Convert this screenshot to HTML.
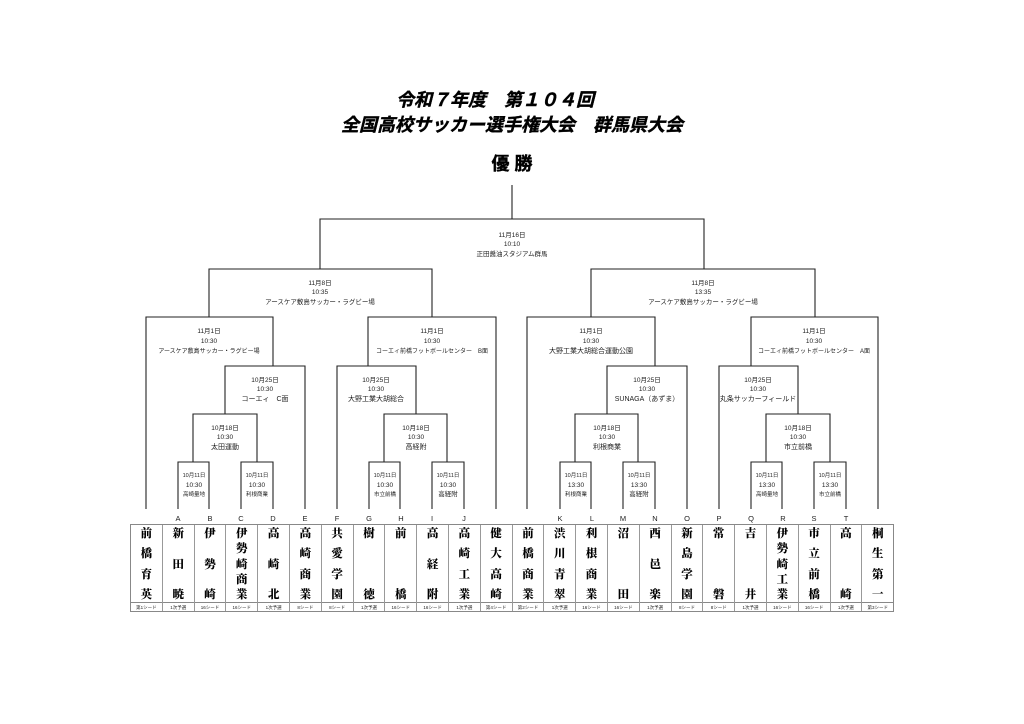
<!DOCTYPE html>
<html><head><meta charset="utf-8"><style>
html,body{margin:0;padding:0;background:#fff;width:1024px;height:724px;overflow:hidden;position:relative}
svg{position:absolute;left:0;top:0}
.t{font-family:"Liberation Sans","Noto Sans CJK JP",sans-serif;fill:#222}
#tbl{position:absolute;left:130px;top:524px;width:764px;height:88px;display:flex;border:1px solid #888;box-sizing:border-box}
.col{flex:1;border-right:1px solid #999;display:flex;flex-direction:column}
.col:last-child{border-right:none}
.nm{height:77px;display:flex;flex-direction:column;justify-content:space-between;align-items:center;padding:2px 0 1px;box-sizing:border-box;font-family:"Noto Serif CJK JP","Noto Serif CJK SC",serif;font-weight:900;font-size:11.5px;line-height:13px;color:#000}
.sd{flex:1;border-top:1px solid #888;font-family:"Liberation Sans","Noto Sans CJK JP",sans-serif;font-size:4.5px;line-height:10px;text-align:center;color:#222;white-space:nowrap;overflow:hidden}
</style></head><body>
<svg width="1024" height="724" viewBox="0 0 1024 724">
<g font-family="'Liberation Sans','Noto Sans CJK JP',sans-serif" fill="#000" font-weight="bold" font-style="italic" text-anchor="middle" stroke="#000" stroke-width="0.4">
<text x="495" y="106" font-size="18">令和７年度　第１０４回</text>
<text x="512" y="131" font-size="18">全国高校サッカー選手権大会　群馬県大会</text>
<text x="512" y="170" font-size="18" font-style="normal">優 勝</text>
</g>
<g stroke="#222" stroke-width="1.1" fill="none">
<path d="M512 185V219M320 269V219H704V269"/>
<path d="M209 317V269H432V317M591 317V269H815V317"/>
<path d="M146 509V317H273V366M368 366V317H496V509M527 509V317H655V366M751 366V317H878V509"/>
<path d="M225 414V366H305V509M337 509V366H416V414M607 414V366H687V509M719 509V366H798V414"/>
<path d="M193 462V414H257V462M384 462V414H447V462M575 462V414H638V462M766 462V414H830V462"/>
<path d="M178 509V462H209V509M241 509V462H273V509M369 509V462H400V509M432 509V462H464V509M560 509V462H591V509M623 509V462H655V509M751 509V462H782V509M814 509V462H846V509"/>
</g>
<g class="t" text-anchor="middle" font-size="6.5">
<text x="512" y="237">11月16日</text><text x="512" y="246">10:10</text><text x="512" y="256">正田醤油スタジアム群馬</text>
<text x="320" y="285">11月8日</text><text x="320" y="294">10:35</text><text x="320" y="304">アースケア敷島サッカー・ラグビー場</text>
<text x="703" y="285">11月8日</text><text x="703" y="294">13:35</text><text x="703" y="304">アースケア敷島サッカー・ラグビー場</text>
<text x="209" y="333">11月1日</text><text x="209" y="343">10:30</text><text x="209" y="353" font-size="6">アースケア敷島サッカー・ラグビー場</text>
<text x="432" y="333">11月1日</text><text x="432" y="343">10:30</text><text x="432" y="353" font-size="6">コーエィ前橋フットボールセンター　B面</text>
<text x="591" y="333">11月1日</text><text x="591" y="343">10:30</text><text x="591" y="353" font-size="7">大野工業大胡総合運動公園</text>
<text x="814" y="333">11月1日</text><text x="814" y="343">10:30</text><text x="814" y="353" font-size="6">コーエィ前橋フットボールセンター　A面</text>
<text x="265" y="382">10月25日</text><text x="265" y="391">10:30</text><text x="265" y="401" font-size="7">コーエィ　C面</text>
<text x="376" y="382">10月25日</text><text x="376" y="391">10:30</text><text x="376" y="401" font-size="7">大野工業大胡総合</text>
<text x="647" y="382">10月25日</text><text x="647" y="391">10:30</text><text x="647" y="401" font-size="7">SUNAGA（あずま）</text>
<text x="758" y="382">10月25日</text><text x="758" y="391">10:30</text><text x="758" y="401" font-size="7">丸条サッカーフィールド</text>
<text x="225" y="430">10月18日</text><text x="225" y="439">10:30</text><text x="225" y="449" font-size="7">太田運動</text>
<text x="416" y="430">10月18日</text><text x="416" y="439">10:30</text><text x="416" y="449" font-size="7">高経附</text>
<text x="607" y="430">10月18日</text><text x="607" y="439">10:30</text><text x="607" y="449" font-size="7">利根商業</text>
<text x="798" y="430">10月18日</text><text x="798" y="439">10:30</text><text x="798" y="449" font-size="7">市立前橋</text>
</g>
<g class="t" text-anchor="middle" font-size="5.5">
<text x="194" y="477">10月11日</text><text x="194" y="487" font-size="6.5">10:30</text><text x="194" y="496">高崎量地</text>
<text x="257" y="477">10月11日</text><text x="257" y="487" font-size="6.5">10:30</text><text x="257" y="496">利根商業</text>
<text x="385" y="477">10月11日</text><text x="385" y="487" font-size="6.5">10:30</text><text x="385" y="496">市立前橋</text>
<text x="448" y="477">10月11日</text><text x="448" y="487" font-size="6.5">10:30</text><text x="448" y="496" font-size="6.5">高経附</text>
<text x="576" y="477">10月11日</text><text x="576" y="487" font-size="6.5">13:30</text><text x="576" y="496">利根商業</text>
<text x="639" y="477">10月11日</text><text x="639" y="487" font-size="6.5">13:30</text><text x="639" y="496" font-size="6.5">高経附</text>
<text x="767" y="477">10月11日</text><text x="767" y="487" font-size="6.5">13:30</text><text x="767" y="496">高崎量地</text>
<text x="830" y="477">10月11日</text><text x="830" y="487" font-size="6.5">13:30</text><text x="830" y="496">市立前橋</text>
</g>
<g class="t" text-anchor="middle" font-size="7.5">
<text x="178" y="521">A</text><text x="210" y="521">B</text><text x="241" y="521">C</text><text x="273" y="521">D</text><text x="305" y="521">E</text>
<text x="337" y="521">F</text><text x="369" y="521">G</text><text x="401" y="521">H</text><text x="432" y="521">I</text><text x="464" y="521">J</text>
<text x="560" y="521">K</text><text x="592" y="521">L</text><text x="623" y="521">M</text><text x="655" y="521">N</text><text x="687" y="521">O</text>
<text x="719" y="521">P</text><text x="751" y="521">Q</text><text x="783" y="521">R</text><text x="814" y="521">S</text><text x="846" y="521">T</text>
</g>
</svg>
<div id="tbl">
<div class="col"><div class="nm"><span>前</span><span>橋</span><span>育</span><span>英</span></div><div class="sd">第1シード</div></div>
<div class="col"><div class="nm"><span>新</span><span>田</span><span>暁</span></div><div class="sd">1次予選</div></div>
<div class="col"><div class="nm"><span>伊</span><span>勢</span><span>崎</span></div><div class="sd">16シード</div></div>
<div class="col"><div class="nm"><span>伊</span><span>勢</span><span>崎</span><span>商</span><span>業</span></div><div class="sd">16シード</div></div>
<div class="col"><div class="nm"><span>高</span><span>崎</span><span>北</span></div><div class="sd">1次予選</div></div>
<div class="col"><div class="nm"><span>高</span><span>崎</span><span>商</span><span>業</span></div><div class="sd">8シード</div></div>
<div class="col"><div class="nm"><span>共</span><span>愛</span><span>学</span><span>園</span></div><div class="sd">8シード</div></div>
<div class="col"><div class="nm"><span>樹</span><span>徳</span></div><div class="sd">1次予選</div></div>
<div class="col"><div class="nm"><span>前</span><span>橋</span></div><div class="sd">16シード</div></div>
<div class="col"><div class="nm"><span>高</span><span>経</span><span>附</span></div><div class="sd">16シード</div></div>
<div class="col"><div class="nm"><span>高</span><span>崎</span><span>工</span><span>業</span></div><div class="sd">1次予選</div></div>
<div class="col"><div class="nm"><span>健</span><span>大</span><span>高</span><span>崎</span></div><div class="sd">第4シード</div></div>
<div class="col"><div class="nm"><span>前</span><span>橋</span><span>商</span><span>業</span></div><div class="sd">第2シード</div></div>
<div class="col"><div class="nm"><span>渋</span><span>川</span><span>青</span><span>翠</span></div><div class="sd">1次予選</div></div>
<div class="col"><div class="nm"><span>利</span><span>根</span><span>商</span><span>業</span></div><div class="sd">16シード</div></div>
<div class="col"><div class="nm"><span>沼</span><span>田</span></div><div class="sd">16シード</div></div>
<div class="col"><div class="nm"><span>西</span><span>邑</span><span>楽</span></div><div class="sd">1次予選</div></div>
<div class="col"><div class="nm"><span>新</span><span>島</span><span>学</span><span>園</span></div><div class="sd">8シード</div></div>
<div class="col"><div class="nm"><span>常</span><span>磐</span></div><div class="sd">8シード</div></div>
<div class="col"><div class="nm"><span>吉</span><span>井</span></div><div class="sd">1次予選</div></div>
<div class="col"><div class="nm"><span>伊</span><span>勢</span><span>崎</span><span>工</span><span>業</span></div><div class="sd">16シード</div></div>
<div class="col"><div class="nm"><span>市</span><span>立</span><span>前</span><span>橋</span></div><div class="sd">16シード</div></div>
<div class="col"><div class="nm"><span>高</span><span>崎</span></div><div class="sd">1次予選</div></div>
<div class="col"><div class="nm"><span>桐</span><span>生</span><span>第</span><span>一</span></div><div class="sd">第3シード</div></div>
</div>
</body></html>
